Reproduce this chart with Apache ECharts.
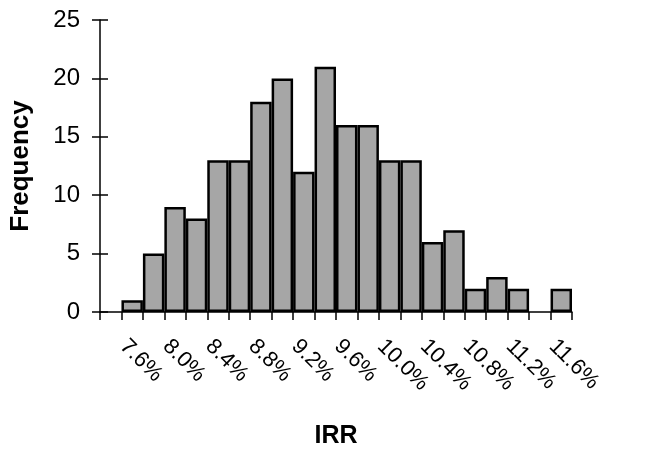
<!DOCTYPE html>
<html>
<head>
<meta charset="utf-8">
<script src="https://cdn.jsdelivr.net/npm/echarts@6/dist/echarts.min.js"></script>
<style>html,body{margin:0;padding:0;background:#fff;}#c{width:665px;height:452px;}</style>
</head>
<body>
<div id="c"></div>
<script>
var categories = ['7.4%','7.6%','7.8%','8.0%','8.2%','8.4%','8.6%','8.8%','9.0%','9.2%','9.4%','9.6%','9.8%','10.0%','10.2%','10.4%','10.6%','10.8%','11.0%','11.2%','11.4%','11.6%'];
var frequency = [0,1,5,9,8,13,13,18,20,12,21,16,16,13,13,6,7,2,3,2,0,2];
var yTicks = [0,5,10,15,20,25];

var chart = echarts.init(document.getElementById('c'));
var font = 'Liberation Sans, Arial, sans-serif';
chart.setOption({
  animation: false,
  backgroundColor: '#fff',
  grid: {left: 100, right: 93, top: 20, bottom: 140, containLabel: false, outerBoundsMode: 'none'},
  xAxis: {
    type: 'category',
    data: categories,
    boundaryGap: true,
    name: 'IRR',
    nameLocation: 'middle',
    nameGap: 112,
    nameTextStyle: {fontFamily: font, fontWeight: 'bold', fontSize: 25, color: '#000'},
    axisLine: {lineStyle: {color: '#000', width: 1.5}},
    axisTick: {show: true, interval: 0, length: 8, lineStyle: {color: '#000', width: 1.5}},
    axisLabel: {
      interval: 0,
      rotate: -45,
      margin: 22,
      lineHeight: 25,
      hideOverlap: false,
      formatter: function (v, i) { return i % 2 === 1 ? '\n' + v : ''; },
      fontFamily: font, fontSize: 22, color: '#000'
    },
    splitLine: {show: false}
  },
  yAxis: [{
    type: 'value',
    min: 0, max: 25, interval: 5,
    name: 'Frequency',
    nameLocation: 'middle',
    nameGap: 66,
    nameTextStyle: {fontFamily: font, fontWeight: 'bold', fontSize: 26, color: '#000'},
    axisLine: {show: true, lineStyle: {color: '#000', width: 1.5}},
    axisTick: {show: true, length: 8, lineStyle: {color: '#000', width: 1.5}},
    axisLabel: {margin: 20, fontFamily: font, fontSize: 24, color: '#000',
      formatter: function (v) { return yTicks.indexOf(v) >= 0 ? String(v) : ''; }},
    splitLine: {show: false}
  }, {
    type: 'value',
    position: 'left',
    min: 0, max: 25, interval: 5,
    axisLine: {show: false},
    axisTick: {show: true, inside: true, length: 8, lineStyle: {color: '#000', width: 1.5}},
    axisLabel: {show: false},
    splitLine: {show: false}
  }],
  series: [{
    type: 'bar',
    data: frequency.map(function (v) { return v === 0 ? '-' : v; }),
    barCategoryGap: '0%',
    itemStyle: {color: '#a6a6a6', borderColor: '#000', borderWidth: 2.5},
    z: 1
  }]
});
</script>
</body>
</html>
